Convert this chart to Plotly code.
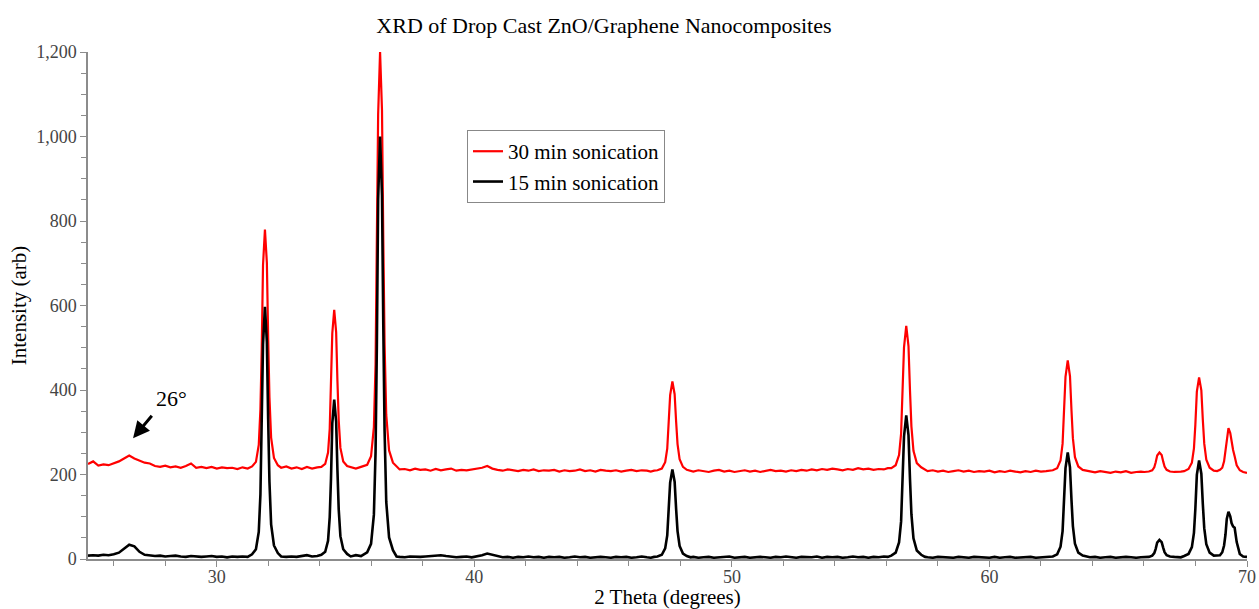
import plotly.graph_objects as go

# ---- data (2-theta in degrees, intensity in arb units) ----
seg_a_x = [25.0, 25.2, 25.4, 25.6, 25.8, 26.0, 26.2, 26.4, 26.6, 26.8, 27.0, 27.2, 27.4, 27.6, 27.8, 28.0,
           28.2, 28.4, 28.6, 28.8, 29.0, 29.2, 29.4, 29.6, 29.8, 30.0, 30.2, 30.4, 30.6, 30.8, 31.0, 31.2]
seg_a_red = [225, 231, 221, 224, 222, 226, 231, 238, 245, 238, 233, 228, 226, 220, 218, 221,
             217, 219, 216, 220, 226, 216, 218, 215, 218, 214, 217, 215, 216, 213, 217, 214]
seg_a_blk = [8, 9, 8, 10, 9, 11, 15, 24, 34, 30, 17, 10, 9, 7, 8, 6,
             7, 8, 6, 5, 7, 6, 5, 6, 7, 5, 6, 4, 6, 5, 6, 5]

pk1_x = [31.37, 31.52, 31.63, 31.695, 31.745, 31.795, 31.87, 31.945, 31.995, 32.045, 32.11, 32.22, 32.37]
pk1_red = [219, 230, 270, 355, 496, 695, 780, 701, 525, 383, 287, 239, 222]
pk1_blk = [11, 23, 64, 153, 301, 508, 597, 514, 331, 183, 82, 32, 14]

seg_b_x = [32.5, 32.7, 32.9, 33.1, 33.3, 33.5, 33.7, 33.9]
seg_b_red = [216, 219, 214, 217, 213, 218, 214, 217]
seg_b_blk = [6, 5, 6, 5, 7, 9, 6, 7]

pk2_x = [34.06, 34.21, 34.32, 34.385, 34.435, 34.485, 34.56, 34.635, 34.685, 34.735, 34.80, 34.91, 35.06]
pk2_red = [218, 225, 252, 308, 402, 534, 590, 537, 421, 327, 263, 231, 220]
pk2_blk = [10, 17, 43, 99, 191, 321, 377, 325, 210, 117, 54, 23, 12]

seg_c_x = [35.2, 35.4, 35.6]
seg_c_red = [217, 214, 218]
seg_c_blk = [6, 9, 7]

pk3_x = [35.84, 35.99, 36.10, 36.165, 36.215, 36.265, 36.34, 36.415, 36.465, 36.515, 36.58, 36.69, 36.84]
pk3_red = [223, 243, 312, 460, 707, 1052, 1200, 1062, 756, 509, 341, 257, 228]
pk3_blk = [16, 36, 105, 254, 503, 851, 1000, 861, 553, 304, 135, 51, 21]

seg_d_x = [36.98, 37.1, 37.3, 37.5, 37.7, 37.9, 38.1, 38.3, 38.5, 38.7, 38.9, 39.1, 39.3, 39.5, 39.7, 39.9,
           40.1, 40.3, 40.5, 40.7, 40.9, 41.1, 41.3, 41.5, 41.7, 41.9, 42.1, 42.3, 42.5, 42.7, 42.9, 43.1,
           43.3, 43.5, 43.7, 43.9, 44.1, 44.3, 44.5, 44.7, 44.9, 45.1, 45.3, 45.5, 45.7, 45.9, 46.1, 46.3,
           46.5, 46.7, 46.85, 46.98]
seg_d_red = [218, 212, 213, 210, 214, 211, 212, 209, 213, 210, 212, 214, 209, 211, 210, 212,
             213, 216, 220, 214, 211, 209, 212, 210, 208, 211, 209, 212, 208, 210, 209, 211,
             207, 210, 208, 209, 212, 208, 210, 207, 211, 209, 208, 210, 207, 209, 211, 208,
             210, 209, 207, 209]
seg_d_blk = [6, 5, 4, 6, 5, 5, 6, 7, 8, 9, 7, 5, 4, 5, 6, 4,
             6, 9, 13, 10, 6, 4, 5, 3, 5, 4, 6, 4, 5, 3, 5, 4,
             5, 3, 4, 6, 4, 5, 3, 4, 5, 4, 3, 5, 4, 5, 3, 4,
             6, 4, 3, 5]

pk4_x = [47.11, 47.28, 47.41, 47.49, 47.545, 47.603, 47.69, 47.777, 47.835, 47.89, 47.97, 48.10, 48.25]
pk4_red = [210, 214, 229, 261, 314, 388, 420, 390, 325, 272, 236, 218, 211]
pk4_blk = [6, 10, 25, 56, 108, 181, 212, 183, 118, 66, 31, 13, 7]

seg_e_x = [48.4, 48.5, 48.7, 48.9, 49.1, 49.3, 49.5, 49.7, 49.9, 50.1, 50.3, 50.5, 50.7, 50.9, 51.1, 51.3,
           51.5, 51.7, 51.9, 52.1, 52.3, 52.5, 52.7, 52.9, 53.1, 53.3, 53.5, 53.7, 53.9, 54.1, 54.3, 54.5,
           54.7, 54.9, 55.1, 55.3, 55.5, 55.7, 55.9, 56.05]
seg_e_red = [209, 207, 210, 208, 206, 209, 211, 207, 209, 206, 208, 210, 207, 209, 206, 208,
             211, 208, 209, 207, 210, 208, 211, 209, 212, 210, 213, 211, 214, 212, 210, 213,
             211, 215, 212, 214, 211, 213, 212, 215]
seg_e_blk = [4, 5, 3, 4, 5, 3, 4, 4, 6, 3, 4, 5, 3, 4, 5, 4,
             3, 5, 4, 6, 4, 3, 5, 4, 4, 6, 3, 5, 4, 5, 3, 4,
             6, 4, 5, 3, 5, 4, 6, 5]

pk5_x = [56.19, 56.36, 56.49, 56.57, 56.625, 56.683, 56.77, 56.857, 56.915, 56.97, 57.05, 57.18, 57.35]
pk5_red = [215, 222, 246, 297, 382, 501, 552, 504, 399, 314, 256, 227, 217]
pk5_blk = [8, 15, 39, 89, 173, 290, 340, 293, 189, 106, 49, 20, 10]

seg_f_x = [57.5, 57.6, 57.8, 58.0, 58.2, 58.4, 58.6, 58.8, 59.0, 59.2, 59.4, 59.6, 59.8, 60.0, 60.2, 60.4,
           60.6, 60.8, 61.0, 61.2, 61.4, 61.6, 61.8, 62.0, 62.2, 62.35]
seg_f_red = [211, 208, 210, 207, 209, 206, 208, 210, 207, 209, 206, 208, 207, 209, 205, 208,
             206, 209, 207, 205, 208, 206, 209, 207, 208, 210]
seg_f_blk = [5, 4, 3, 5, 4, 4, 3, 5, 4, 3, 5, 4, 4, 3, 5, 3,
             4, 5, 3, 4, 4, 5, 3, 4, 5, 6]

pk6_x = [62.46, 62.63, 62.76, 62.84, 62.895, 62.953, 63.04, 63.127, 63.185, 63.24, 63.32, 63.45, 63.62]
pk6_red = [210, 215, 233, 273, 339, 431, 470, 433, 352, 286, 241, 219, 211]
pk6_blk = [6, 11, 29, 66, 128, 215, 252, 217, 140, 78, 36, 15, 8]

seg_g_x = [63.75, 63.9, 64.1, 64.3, 64.5, 64.7, 64.9, 65.1, 65.3, 65.5, 65.7, 65.88]
seg_g_red = [209, 207, 205, 208, 206, 204, 207, 205, 208, 204, 206, 207]
seg_g_blk = [6, 4, 5, 3, 4, 5, 3, 4, 5, 4, 3, 4]

pk7_x = [66.02, 66.19, 66.32, 66.40, 66.455, 66.513, 66.60, 66.687, 66.745, 66.80, 66.88, 67.01, 67.18]
pk7_red = [206, 207, 210, 217, 229, 245, 252, 246, 231, 219, 211, 207, 206]
pk7_blk = [4, 5, 8, 14, 24, 39, 45, 40, 27, 16, 9, 6, 5]

seg_h_x = [67.3, 67.43]
seg_h_red = [206, 207]
seg_h_blk = [5, 4]

pk8_x = [67.56, 67.73, 67.86, 67.94, 67.995, 68.053, 68.14, 68.227, 68.285, 68.34, 68.42, 68.55, 68.71]
pk8_red = [208, 213, 228, 262, 318, 396, 430, 399, 329, 273, 235, 216, 209]
pk8_blk = [7, 12, 28, 62, 119, 199, 233, 202, 130, 73, 35, 15, 8]

pk9_x = [68.84, 68.95, 69.04, 69.11, 69.165, 69.215, 69.28, 69.35, 69.40, 69.46, 69.52, 69.60, 69.72]
pk9_red = [208, 211, 216, 231, 258, 292, 310, 298, 276, 258, 243, 222, 210]
pk9_blk = [8, 9, 16, 32, 58, 95, 112, 101, 85, 77, 74, 40, 12]

seg_i_x = [69.85, 70.0]
seg_i_red = [206, 204]
seg_i_blk = [6, 5]

segments = [
    (seg_a_x, seg_a_red, seg_a_blk), (pk1_x, pk1_red, pk1_blk), (seg_b_x, seg_b_red, seg_b_blk),
    (pk2_x, pk2_red, pk2_blk), (seg_c_x, seg_c_red, seg_c_blk), (pk3_x, pk3_red, pk3_blk),
    (seg_d_x, seg_d_red, seg_d_blk), (pk4_x, pk4_red, pk4_blk), (seg_e_x, seg_e_red, seg_e_blk),
    (pk5_x, pk5_red, pk5_blk), (seg_f_x, seg_f_red, seg_f_blk), (pk6_x, pk6_red, pk6_blk),
    (seg_g_x, seg_g_red, seg_g_blk), (pk7_x, pk7_red, pk7_blk), (seg_h_x, seg_h_red, seg_h_blk),
    (pk8_x, pk8_red, pk8_blk), (pk9_x, pk9_red, pk9_blk), (seg_i_x, seg_i_red, seg_i_blk),
]

two_theta, red_30min, black_15min = [], [], []
for i, (sx, sr, sb) in enumerate(segments):
    assert len(sx) == len(sr) == len(sb), (i, len(sx), len(sr), len(sb))
    two_theta += sx
    red_30min += sr
    black_15min += sb

series_names = ["30 min sonication", "15 min sonication"]
x_ticks = [30, 40, 50, 60, 70]
y_ticks = [0, 200, 400, 600, 800, 1000, 1200]

SERIF = "Liberation Serif, Times New Roman, serif"
AXIS_GRAY = "#8c8c8c"

fig = go.Figure()
fig.add_trace(go.Scatter(x=two_theta, y=red_30min, mode="lines", name=series_names[0],
                         line=dict(color="#ff0000", width=2.2)))
fig.add_trace(go.Scatter(x=two_theta, y=black_15min, mode="lines", name=series_names[1],
                         line=dict(color="#000000", width=2.6)))

# annotation: arrow at the 26 degree graphite peak
fig.add_annotation(x=26.75, y=286, xref="x", yref="y", text="", showarrow=True,
                   arrowhead=2, arrowsize=1.1, arrowwidth=3, arrowcolor="black",
                   ax=20, ay=-24)
fig.add_annotation(x=28.25, y=381, xref="x", yref="y", text="26°", showarrow=False,
                   font=dict(family=SERIF, size=22, color="black"))

fig.update_layout(
    width=1259, height=609,
    margin=dict(l=88, r=12, t=52, b=50),
    paper_bgcolor="white", plot_bgcolor="white",
    title=dict(text="XRD of Drop Cast ZnO/Graphene Nanocomposites",
               font=dict(family=SERIF, size=22, color="black"),
               x=0.4797, xref="container", xanchor="center", y=0.959, yanchor="middle"),
    showlegend=True,
    legend=dict(x=0.327, y=0.846, xanchor="left", yanchor="top",
                bgcolor="white", bordercolor="#888888", borderwidth=1,
                font=dict(family=SERIF, size=21, color="black"),
                itemwidth=30, tracegroupgap=0),
    font=dict(family=SERIF),
)
fig.update_xaxes(
    range=[25, 70], tickvals=x_ticks, showgrid=False, zeroline=False, automargin=False,
    showline=True, linecolor=AXIS_GRAY, linewidth=1.5,
    ticks="outside", ticklen=6, tickcolor=AXIS_GRAY, tickwidth=1.2,
    minor=dict(dtick=2, ticks="outside", ticklen=5, tickcolor=AXIS_GRAY, tickwidth=1.2),
    tickfont=dict(family=SERIF, size=18, color="#444444"),
    ticklabelstandoff=-5,
    title=dict(text="2 Theta (degrees)", font=dict(family=SERIF, size=21, color="black"), standoff=4),
)
fig.update_yaxes(
    range=[0, 1200], tickvals=y_ticks, tickformat=",d", showgrid=False, zeroline=False, automargin=False,
    showline=True, linecolor=AXIS_GRAY, linewidth=1.5,
    ticks="outside", ticklen=6, tickcolor=AXIS_GRAY, tickwidth=1.2,
    minor=dict(dtick=50, ticks="outside", ticklen=5, tickcolor=AXIS_GRAY, tickwidth=1.2),
    tickfont=dict(family=SERIF, size=18, color="#444444"),
    title=dict(text="Intensity (arb)", font=dict(family=SERIF, size=21, color="black"), standoff=4),
)

fig.write_html("out.html", config={"displayModeBar": False},
               post_script="document.body.style.margin='0';")
